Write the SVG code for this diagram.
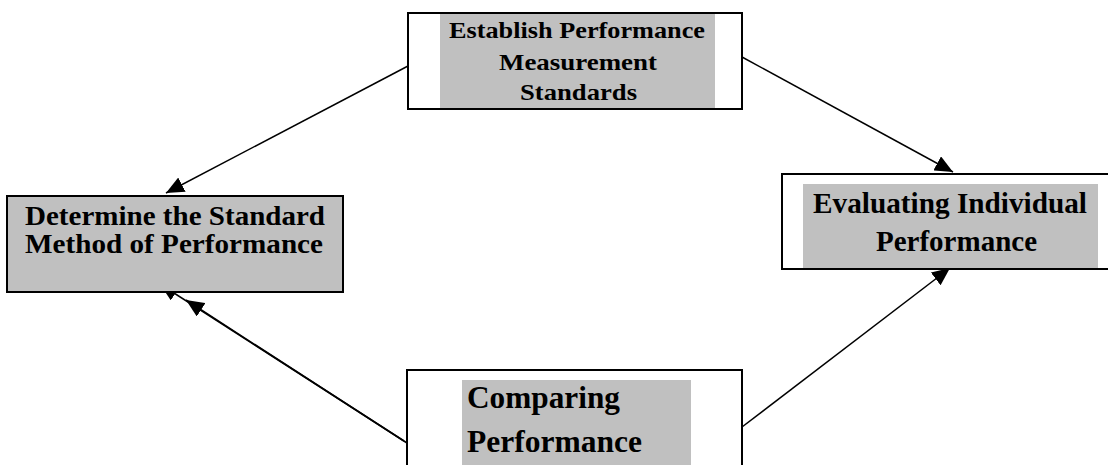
<svg xmlns="http://www.w3.org/2000/svg" width="1108" height="465" viewBox="0 0 1108 465">
<style>
.box{fill:#fff;stroke:#000;stroke-width:2}
.fill{fill:#c0c0c0}
.t{font-family:"Liberation Serif","Times New Roman",serif;font-weight:bold;fill:#000}
.c{fill:none;stroke:#000;stroke-width:1.5}
</style>
<defs>
<marker id="ah" markerUnits="userSpaceOnUse" markerWidth="20" markerHeight="16" viewBox="0 0 20 16" refX="18" refY="8" orient="auto">
<path d="M0,0 L18,8 L0,16 Z" fill="#000"/>
</marker>
</defs>
<rect width="1108" height="465" fill="#fff"/>
<g id="connectors">
<line class="c" x1="408" y1="66" x2="166" y2="193" marker-end="url(#ah)"/>
<line class="c" x1="742" y1="57" x2="953" y2="172" marker-end="url(#ah)"/>
<line class="c" x1="742" y1="427" x2="950" y2="268" marker-end="url(#ah)"/>
<line class="c" x1="404" y1="441" x2="160" y2="284" marker-end="url(#ah)"/>
<line class="c" x1="407" y1="443" x2="186" y2="300" marker-end="url(#ah)"/>
</g>
<g id="node-establish">
<rect class="box" x="408" y="13" width="334" height="96"/>
<rect class="fill" x="440" y="14" width="275" height="94"/>
<text class="t" font-size="23" x="449" y="38" textLength="256" lengthAdjust="spacingAndGlyphs">Establish Performance</text>
<text class="t" font-size="23" x="499" y="70" textLength="158" lengthAdjust="spacingAndGlyphs">Measurement</text>
<text class="t" font-size="23" x="520" y="100" textLength="117" lengthAdjust="spacingAndGlyphs">Standards</text>
</g>
<g id="node-determine">
<rect class="box" x="7" y="196" width="336" height="96" style="fill:#c0c0c0"/>
<text class="t" font-size="27" x="25" y="225" textLength="300" lengthAdjust="spacingAndGlyphs">Determine the Standard</text>
<text class="t" font-size="27" x="25" y="253" textLength="298" lengthAdjust="spacingAndGlyphs">Method of Performance</text>
</g>
<g id="node-evaluating">
<rect class="box" x="782" y="174" width="340" height="95"/>
<rect class="fill" x="803" y="184" width="295" height="84"/>
<text class="t" font-size="29" x="813" y="213" textLength="274" lengthAdjust="spacingAndGlyphs">Evaluating Individual</text>
<text class="t" font-size="29" x="876" y="251" textLength="161" lengthAdjust="spacingAndGlyphs">Performance</text>
</g>
<g id="node-comparing">
<rect class="box" x="407" y="370" width="335" height="110"/>
<rect class="fill" x="462" y="380" width="229" height="90"/>
<text class="t" font-size="32" x="467" y="408" textLength="153" lengthAdjust="spacingAndGlyphs">Comparing</text>
<text class="t" font-size="32" x="467" y="452" textLength="175" lengthAdjust="spacingAndGlyphs">Performance</text>
</g>
</svg>
